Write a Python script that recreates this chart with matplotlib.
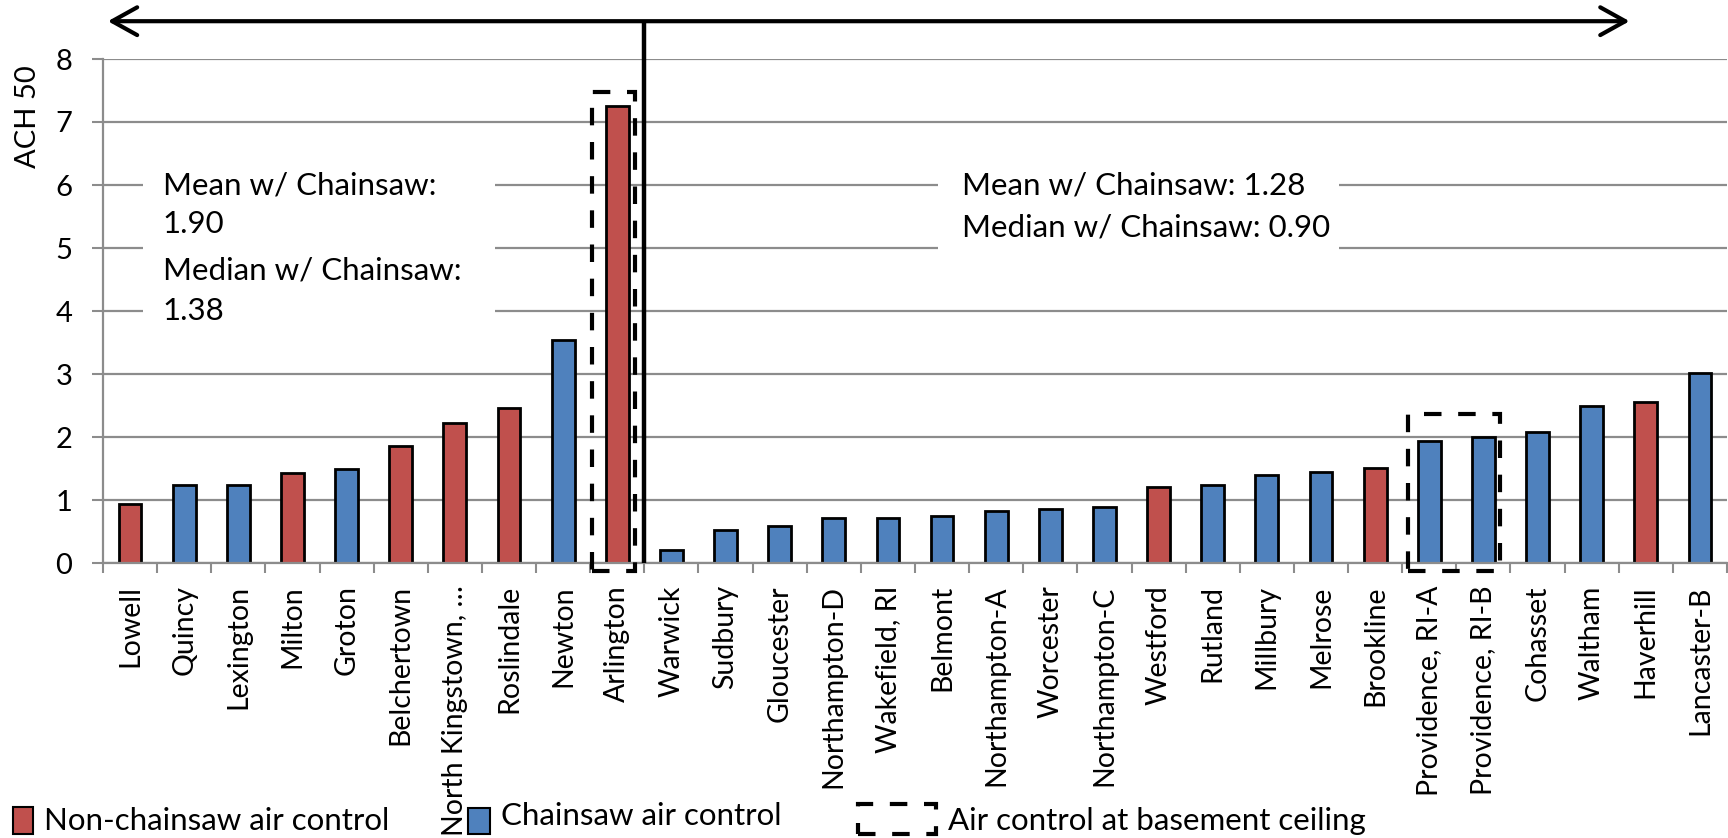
import matplotlib
matplotlib.use("Agg")
import matplotlib.pyplot as plt
from matplotlib.patches import Rectangle

plt.rcParams['font.family'] = ['Lato', 'DejaVu Sans']

# ---------------- data ----------------
sites = ["Lowell", "Quincy", "Lexington", "Milton", "Groton", "Belchertown",
         "North Kingstown, \u2026", "Roslindale", "Newton", "Arlington",
         "Warwick", "Sudbury", "Gloucester", "Northampton-D", "Wakefield, RI",
         "Belmont", "Northampton-A", "Worcester", "Northampton-C", "Westford",
         "Rutland", "Millbury", "Melrose", "Brookline", "Providence, RI-A",
         "Providence, RI-B", "Cohasset", "Waltham", "Haverhill", "Lancaster-B"]
ach50 = [0.94, 1.24, 1.24, 1.43, 1.50, 1.85, 2.22, 2.46, 3.54, 7.26,
         0.21, 0.52, 0.59, 0.71, 0.71, 0.74, 0.82, 0.86, 0.89, 1.20,
         1.24, 1.40, 1.44, 1.51, 1.93, 2.00, 2.08, 2.50, 2.55, 3.01]
# True = chainsaw air control (blue), False = non-chainsaw (red)
chainsaw = [False, True, True, False, True, False, False, False, True, False,
            True, True, True, True, True, True, True, True, True, False,
            True, True, True, False, True, True, True, True, False, True]
basement_ceiling = ["Arlington", "Providence, RI-A", "Providence, RI-B"]
left_stats = ["Mean w/ Chainsaw:", "1.90", "Median w/ Chainsaw:", "1.38"]
right_stats = ["Mean w/ Chainsaw: 1.28", "Median w/ Chainsaw: 0.90"]
legend_labels = ["Non-chainsaw air control", "Chainsaw air control",
                 "Air control at basement ceiling"]
yticks = [0, 1, 2, 3, 4, 5, 6, 7, 8]

RED = "#C0504D"
BLUE = "#4F81BD"
GRID = "#8C8C8C"
FS = 21
FS_TXT = 22.5
FS_X = 20.5

W, H = 1728, 838
fig = plt.figure(figsize=(W / 100, H / 100), dpi=100)
ax = fig.add_axes([103 / W, (H - 563) / H, (1727 - 103) / W, (563 - 59) / H])

x = list(range(len(sites)))
colors = [BLUE if c else RED for c in chainsaw]
ax.bar(x, ach50, width=0.42, color=colors, edgecolor="black", linewidth=2.0, zorder=3)

ax.set_xlim(-0.5, len(sites) - 0.5)
ax.set_ylim(0, 8)
ax.set_yticks(yticks)
ax.set_yticklabels([str(t) for t in yticks], fontsize=FS)
ax.set_xticks(x)
ax.set_xticklabels(sites, rotation=90, fontsize=FS_X, va="top", ha="center")
ax.set_xticks([i - 0.5 for i in range(len(sites) + 1)], minor=True)
ax.tick_params(axis="x", which="major", length=0, pad=16)
ax.tick_params(axis="x", which="minor", length=7, width=1.5, color=GRID, direction="out")
ax.tick_params(axis="y", which="major", length=8, width=1.5, color=GRID, pad=14)
ax.grid(axis="y", color=GRID, linewidth=1.6, zorder=0)
ax.set_axisbelow(True)
for s in ["top", "right"]:
    ax.spines[s].set_visible(False)
for s in ["left", "bottom"]:
    ax.spines[s].set_color(GRID)
    ax.spines[s].set_linewidth(1.6)
    ax.spines[s].set_zorder(4)

# white boxes behind the statistic texts
ax.add_patch(Rectangle((0.24, 3.72), 6.5, 2.6, facecolor="white", edgecolor="none", zorder=1))
ax.add_patch(Rectangle((14.93, 4.6), 7.4, 1.72, facecolor="white", edgecolor="none", zorder=1))
for t, yy in zip(left_stats, [6.0, 5.38, 4.64, 4.0]):
    ax.text(0.60, yy, t, fontsize=FS_TXT, ha="left", va="center", zorder=2)
for t, yy in zip(right_stats, [6.0, 5.32]):
    ax.text(15.36, yy, t, fontsize=FS_TXT, ha="left", va="center", zorder=2)

# dashed boxes: air control at basement ceiling
idx_arl = sites.index(basement_ceiling[0])
ax.add_patch(Rectangle((idx_arl - 0.46, -0.13), 0.78, 7.60, fill=False, edgecolor="black",
                       linewidth=3.0, linestyle=(0, (4.2, 4.0)), clip_on=False, zorder=5))
idx_pa = sites.index(basement_ceiling[1])
idx_pb = sites.index(basement_ceiling[2])
ax.add_patch(Rectangle((idx_pa - 0.40, -0.12), (idx_pb + 0.30) - (idx_pa - 0.40), 2.49,
                       fill=False, edgecolor="black", linewidth=3.0,
                       linestyle=(0, (4.2, 4.0)), clip_on=False, zorder=5))

# divider line and double arrow
ax.plot([idx_arl + 0.5, idx_arl + 0.5], [0, 8.6], color="black", lw=3.2,
        clip_on=False, zorder=5, solid_capstyle="butt")
ax.annotate("", xy=(27.7, 8.6), xytext=(-0.41, 8.6),
            arrowprops=dict(arrowstyle="<->,head_length=0.9,head_width=0.5",
                            lw=3.0, color="black", mutation_scale=20,
                            shrinkA=0, shrinkB=0),
            annotation_clip=False, zorder=5)

# y axis title
fig.text(28 / W, 1 - 117 / H, "ACH 50", rotation=90, ha="center", va="center", fontsize=FS)

# legend (figure coordinates)
def px(xp, yp):
    return xp / W, 1 - yp / H

fig.patches.append(Rectangle(px(13, 834), 20 / W, 27 / H, transform=fig.transFigure,
                             facecolor=RED, edgecolor="black", linewidth=1.5))
fig.text(*px(44, 821), legend_labels[0], fontsize=FS_TXT, va="center", ha="left")
fig.patches.append(Rectangle(px(468, 834), 22 / W, 26 / H, transform=fig.transFigure,
                             facecolor=BLUE, edgecolor="black", linewidth=1.5))
fig.text(*px(501, 816), legend_labels[1], fontsize=FS_TXT, va="center", ha="left")
fig.patches.append(Rectangle(px(858, 834), 78 / W, 30 / H, transform=fig.transFigure,
                             fill=False, edgecolor="black", linewidth=3.0,
                             linestyle=(0, (4.2, 4.0))))
fig.text(*px(948, 821), legend_labels[2], fontsize=FS_TXT, va="center", ha="left")

fig.savefig("out.png", dpi=100, facecolor="white")
